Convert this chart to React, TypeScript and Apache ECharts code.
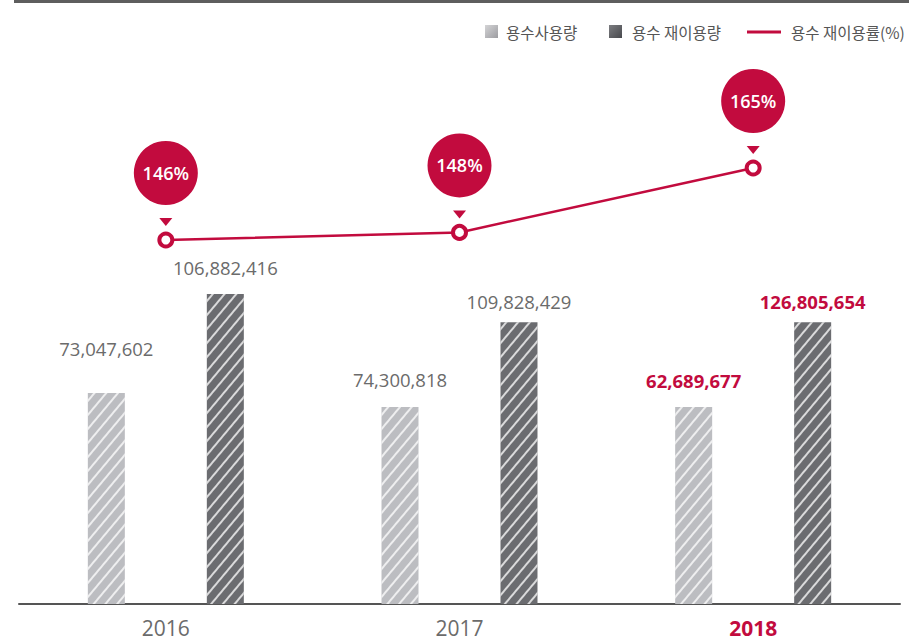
import React, { useEffect, useRef } from "react";
import * as echarts from "echarts";

// Categories
const years = ["2016", "2017", "2018"];
// Printed values (labels)
const usageValues = [73047602, 74300818, 62689677];
const reuseValues = [106882416, 109828429, 126805654];
// Bar heights as drawn in the picture (the original is not drawn to scale)
const usageBarHeights = [72800000, 67900000, 67900000];
const reuseBarHeights = [106900000, 97200000, 97200000];
// Reuse rate (%)
const reuseRate = [146, 148, 165];

const RED = "#c20b3e";
const TXT = "#6b6b6b";
const FONT = "'Open Sans', 'Noto Sans', 'Noto Sans CJK KR', sans-serif";
const KFONT = "'Noto Sans CJK KR', 'Open Sans', sans-serif";

const fmt = (n: number) => n.toLocaleString("en-US");

export default function App() {
  const ref = useRef<HTMLDivElement>(null);
  useEffect(() => {
    document.body.style.margin = "0";
    if (!ref.current) return;
    const chart = echarts.init(ref.current, undefined, { renderer: "svg" });
    const hl = (i: number) => i === years.length - 1;
    const usageDist = [35, 18, 17];
    const reuseDist = [17, 11, 11];
    const decal = {
      symbol: "rect",
      symbolSize: 1,
      dashArrayX: [1, 0],
      dashArrayY: [1.3, 7],
      rotation: -Math.PI / 3.6,
      color: "rgba(255,255,255,0.75)",
    };
    const labelBase = (i: number) => ({
      show: true,
      position: "top",
      fontSize: 18.5,
      fontFamily: FONT,
      color: hl(i) ? RED : TXT,
      fontWeight: hl(i) ? "bold" : "normal",
    });
    chart.setOption({
      animation: false,
      grid: { left: 19, right: 9, top: 0, bottom: 38, containLabel: false },
      xAxis: {
        type: "category",
        data: years.map((y, i) =>
          hl(i)
            ? { value: y, textStyle: { color: RED, fontWeight: "bold" } }
            : { value: y }
        ),
        axisLine: { lineStyle: { color: "#555", width: 2 } },
        axisTick: { show: false },
        axisLabel: { fontSize: 21, lineHeight: 21, color: TXT, fontFamily: FONT, margin: 13 },
      },
      yAxis: [
        { type: "value", min: 0, max: 208300000, show: false },
        { type: "value", min: 49.93, max: 209.34, show: false },
      ],
      series: [
        {
          type: "bar",
          name: "용수사용량",
          barWidth: 37,
          barGap: "221.6%",
          itemStyle: { color: "#bcbdc1", decal },
          data: usageBarHeights.map((v, i) => ({
            value: v,
            label: { ...labelBase(i), distance: usageDist[i], formatter: fmt(usageValues[i]) },
          })),
        },
        {
          type: "bar",
          name: "용수 재이용량",
          barWidth: 37,
          itemStyle: { color: "#6b6c70", decal },
          data: reuseBarHeights.map((v, i) => ({
            value: v,
            label: { ...labelBase(i), distance: reuseDist[i], formatter: fmt(reuseValues[i]) },
          })),
        },
        {
          type: "scatter",
          yAxisIndex: 1,
          symbol: "circle",
          symbolSize: 64,
          symbolOffset: [0, -67],
          itemStyle: { color: RED, opacity: 1 },
          label: {
            show: true,
            position: "inside",
            formatter: (p: any) => reuseRate[p.dataIndex] + "%",
            color: "#fff",
            fontSize: 18,
            fontWeight: 600,
            fontFamily: FONT,
          },
          data: reuseRate,
          z: 3,
        },
        {
          type: "scatter",
          yAxisIndex: 1,
          symbol: "triangle",
          symbolRotate: 180,
          symbolSize: [13, 8],
          symbolOffset: [0, -18],
          itemStyle: { color: RED, opacity: 1 },
          data: reuseRate,
          z: 3,
        },
        {
          type: "line",
          name: "용수 재이용률(%)",
          yAxisIndex: 1,
          data: reuseRate,
          symbol: "circle",
          symbolSize: 13,
          showAllSymbol: true,
          lineStyle: { color: RED, width: 2.5 },
          itemStyle: { color: "#fff", borderColor: RED, borderWidth: 4 },
          z: 4,
        },
      ],
      graphic: [
        { type: "rect", shape: { x: 14, y: 0, width: 895, height: 3 }, style: { fill: "#5e5e5e" } },
        {
          type: "rect",
          shape: { x: 485, y: 25, width: 13, height: 13 },
          style: {
            fill: new echarts.graphic.LinearGradient(0, 0, 1, 1, [
              { offset: 0, color: "#d4d4d6" },
              { offset: 1, color: "#9c9ca0" },
            ]),
          },
        },
        {
          type: "text",
          x: 506,
          y: 32,
          style: { text: "용수사용량", font: `15.5px ${KFONT}`, fill: "#555", verticalAlign: "middle" },
        },
        {
          type: "rect",
          shape: { x: 609, y: 25, width: 13, height: 13 },
          style: {
            fill: new echarts.graphic.LinearGradient(0, 0, 1, 1, [
              { offset: 0, color: "#7c7d81" },
              { offset: 1, color: "#48494d" },
            ]),
          },
        },
        {
          type: "text",
          x: 632,
          y: 32,
          style: { text: "용수 재이용량", font: `15.5px ${KFONT}`, fill: "#555", verticalAlign: "middle" },
        },
        {
          type: "line",
          shape: { x1: 747, y1: 32, x2: 781, y2: 32 },
          style: { stroke: RED, lineWidth: 3 },
        },
        {
          type: "text",
          x: 791,
          y: 32,
          style: { text: "용수 재이용률(%)", font: `15.5px ${KFONT}`, fill: "#555", verticalAlign: "middle" },
        },
      ],
    });
    return () => chart.dispose();
  }, []);
  return <div ref={ref} style={{ width: 909, height: 642 }} />;
}
